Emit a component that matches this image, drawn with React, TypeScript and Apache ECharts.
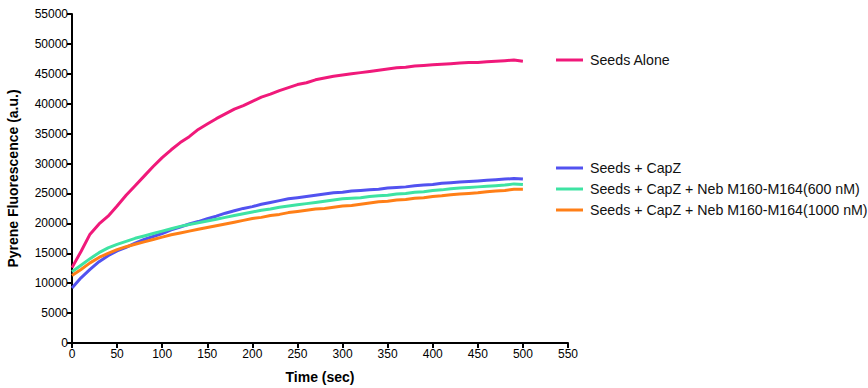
import React, { useEffect, useRef } from "react";
import * as echarts from "echarts";

const times = [0, 10, 20, 30, 40, 50, 60, 70, 80, 90, 100, 110, 120, 130, 140, 150, 160, 170, 180, 190, 200, 210, 220, 230, 240, 250, 260, 270, 280, 290, 300, 310, 320, 330, 340, 350, 360, 370, 380, 390, 400, 410, 420, 430, 440, 450, 460, 470, 480, 490, 500];

const seedsAlone = [12600, 15300, 18200, 19900, 21200, 22900, 24700, 26300, 27900, 29500, 31000, 32300, 33500, 34500, 35700, 36600, 37500, 38300, 39100, 39700, 40400, 41100, 41600, 42200, 42700, 43200, 43500, 44000, 44300, 44600, 44800, 45000, 45200, 45400, 45600, 45800, 46000, 46100, 46300, 46400, 46500, 46600, 46700, 46800, 46900, 46900, 47000, 47100, 47200, 47300, 47100];

const seedsCapZ = [9200, 10900, 12300, 13600, 14600, 15400, 16000, 16700, 17300, 17800, 18300, 18900, 19400, 19900, 20300, 20800, 21200, 21700, 22100, 22500, 22800, 23200, 23500, 23800, 24100, 24300, 24500, 24700, 24900, 25100, 25200, 25400, 25500, 25600, 25700, 25900, 26000, 26100, 26300, 26400, 26500, 26700, 26800, 26900, 27000, 27100, 27200, 27300, 27400, 27500, 27400];

const neb600 = [11900, 13000, 14100, 15100, 15900, 16500, 17000, 17500, 17900, 18300, 18700, 19100, 19500, 19800, 20100, 20400, 20700, 21000, 21300, 21600, 21900, 22200, 22400, 22700, 22900, 23100, 23300, 23500, 23700, 23900, 24100, 24200, 24300, 24500, 24600, 24700, 24900, 25000, 25200, 25300, 25500, 25600, 25800, 25900, 26000, 26100, 26200, 26300, 26400, 26600, 26500];

const neb1000 = [11300, 12300, 13400, 14300, 15000, 15600, 16100, 16500, 16900, 17300, 17700, 18100, 18400, 18700, 19000, 19300, 19600, 19900, 20200, 20500, 20800, 21000, 21300, 21500, 21800, 22000, 22200, 22400, 22500, 22700, 22900, 23000, 23200, 23400, 23600, 23700, 23900, 24000, 24200, 24300, 24500, 24600, 24800, 24900, 25000, 25100, 25300, 25400, 25500, 25700, 25700];

const seriesNames = [
  "Seeds Alone",
  "Seeds + CapZ",
  "Seeds + CapZ + Neb M160-M164(600 nM)",
  "Seeds + CapZ + Neb M160-M164(1000 nM)",
];
const seriesColors = ["#F0197A", "#5252F0", "#3EE3A3", "#FF7F17"];
const seriesValues = [seedsAlone, seedsCapZ, neb600, neb1000];

const FONT = "Liberation Sans, Arial, sans-serif";

export default function App() {
  const ref = useRef<HTMLDivElement>(null);
  useEffect(() => {
    if (!ref.current) return;
    const chart = echarts.init(ref.current, undefined, { renderer: "svg" });
    const legendText = { color: "#111", fontSize: 14.2, fontFamily: FONT, padding: [0, 0, 0, 2] };
    chart.setOption({
      animation: false,
      backgroundColor: "#fff",
      grid: { left: 72, right: 300, top: 14, bottom: 45, containLabel: false, outerBoundsMode: "none" },
      legend: [
        {
          data: [seriesNames[0]],
          left: 551,
          top: 48,
          orient: "vertical",
          icon: "rect",
          itemWidth: 27,
          itemHeight: 3,
          textStyle: legendText,
        },
        {
          data: seriesNames.slice(1),
          left: 551,
          top: 156,
          orient: "vertical",
          icon: "rect",
          itemWidth: 27,
          itemHeight: 3,
          itemGap: 7,
          textStyle: legendText,
        },
      ],
      xAxis: {
        type: "value",
        min: 0,
        max: 550,
        interval: 50,
        name: "Time (sec)",
        nameLocation: "middle",
        nameGap: 27,
        nameTextStyle: { fontWeight: "bold", fontSize: 14, color: "#000", fontFamily: FONT },
        axisLine: { lineStyle: { color: "#000", width: 2 } },
        axisTick: { length: 5, lineStyle: { color: "#000", width: 2 } },
        axisLabel: { color: "#000", fontSize: 12, fontFamily: FONT, margin: 5 },
        splitLine: { show: false },
      },
      yAxis: {
        type: "value",
        min: 0,
        max: 55000,
        interval: 5000,
        name: "Pyrene Fluorescence (a.u.)",
        nameLocation: "middle",
        nameGap: 52,
        nameTextStyle: { fontWeight: "bold", fontSize: 14, color: "#000", fontFamily: FONT },
        axisLine: { show: true, lineStyle: { color: "#000", width: 2 } },
        axisTick: { show: true, length: 5, lineStyle: { color: "#000", width: 2 } },
        axisLabel: { color: "#000", fontSize: 12, fontFamily: FONT, margin: 4, formatter: (v: number) => String(v) },
        splitLine: { show: false },
      },
      series: seriesNames.map((name, i) => ({
        name,
        type: "line",
        showSymbol: false,
        color: seriesColors[i],
        lineStyle: { width: 3, color: seriesColors[i] },
        data: times.map((t, j) => [t, seriesValues[i][j]]),
      })),
    });
    return () => chart.dispose();
  }, []);
  return <div ref={ref} style={{ width: 868, height: 388, position: "absolute", left: 0, top: 0 }} />;
}
